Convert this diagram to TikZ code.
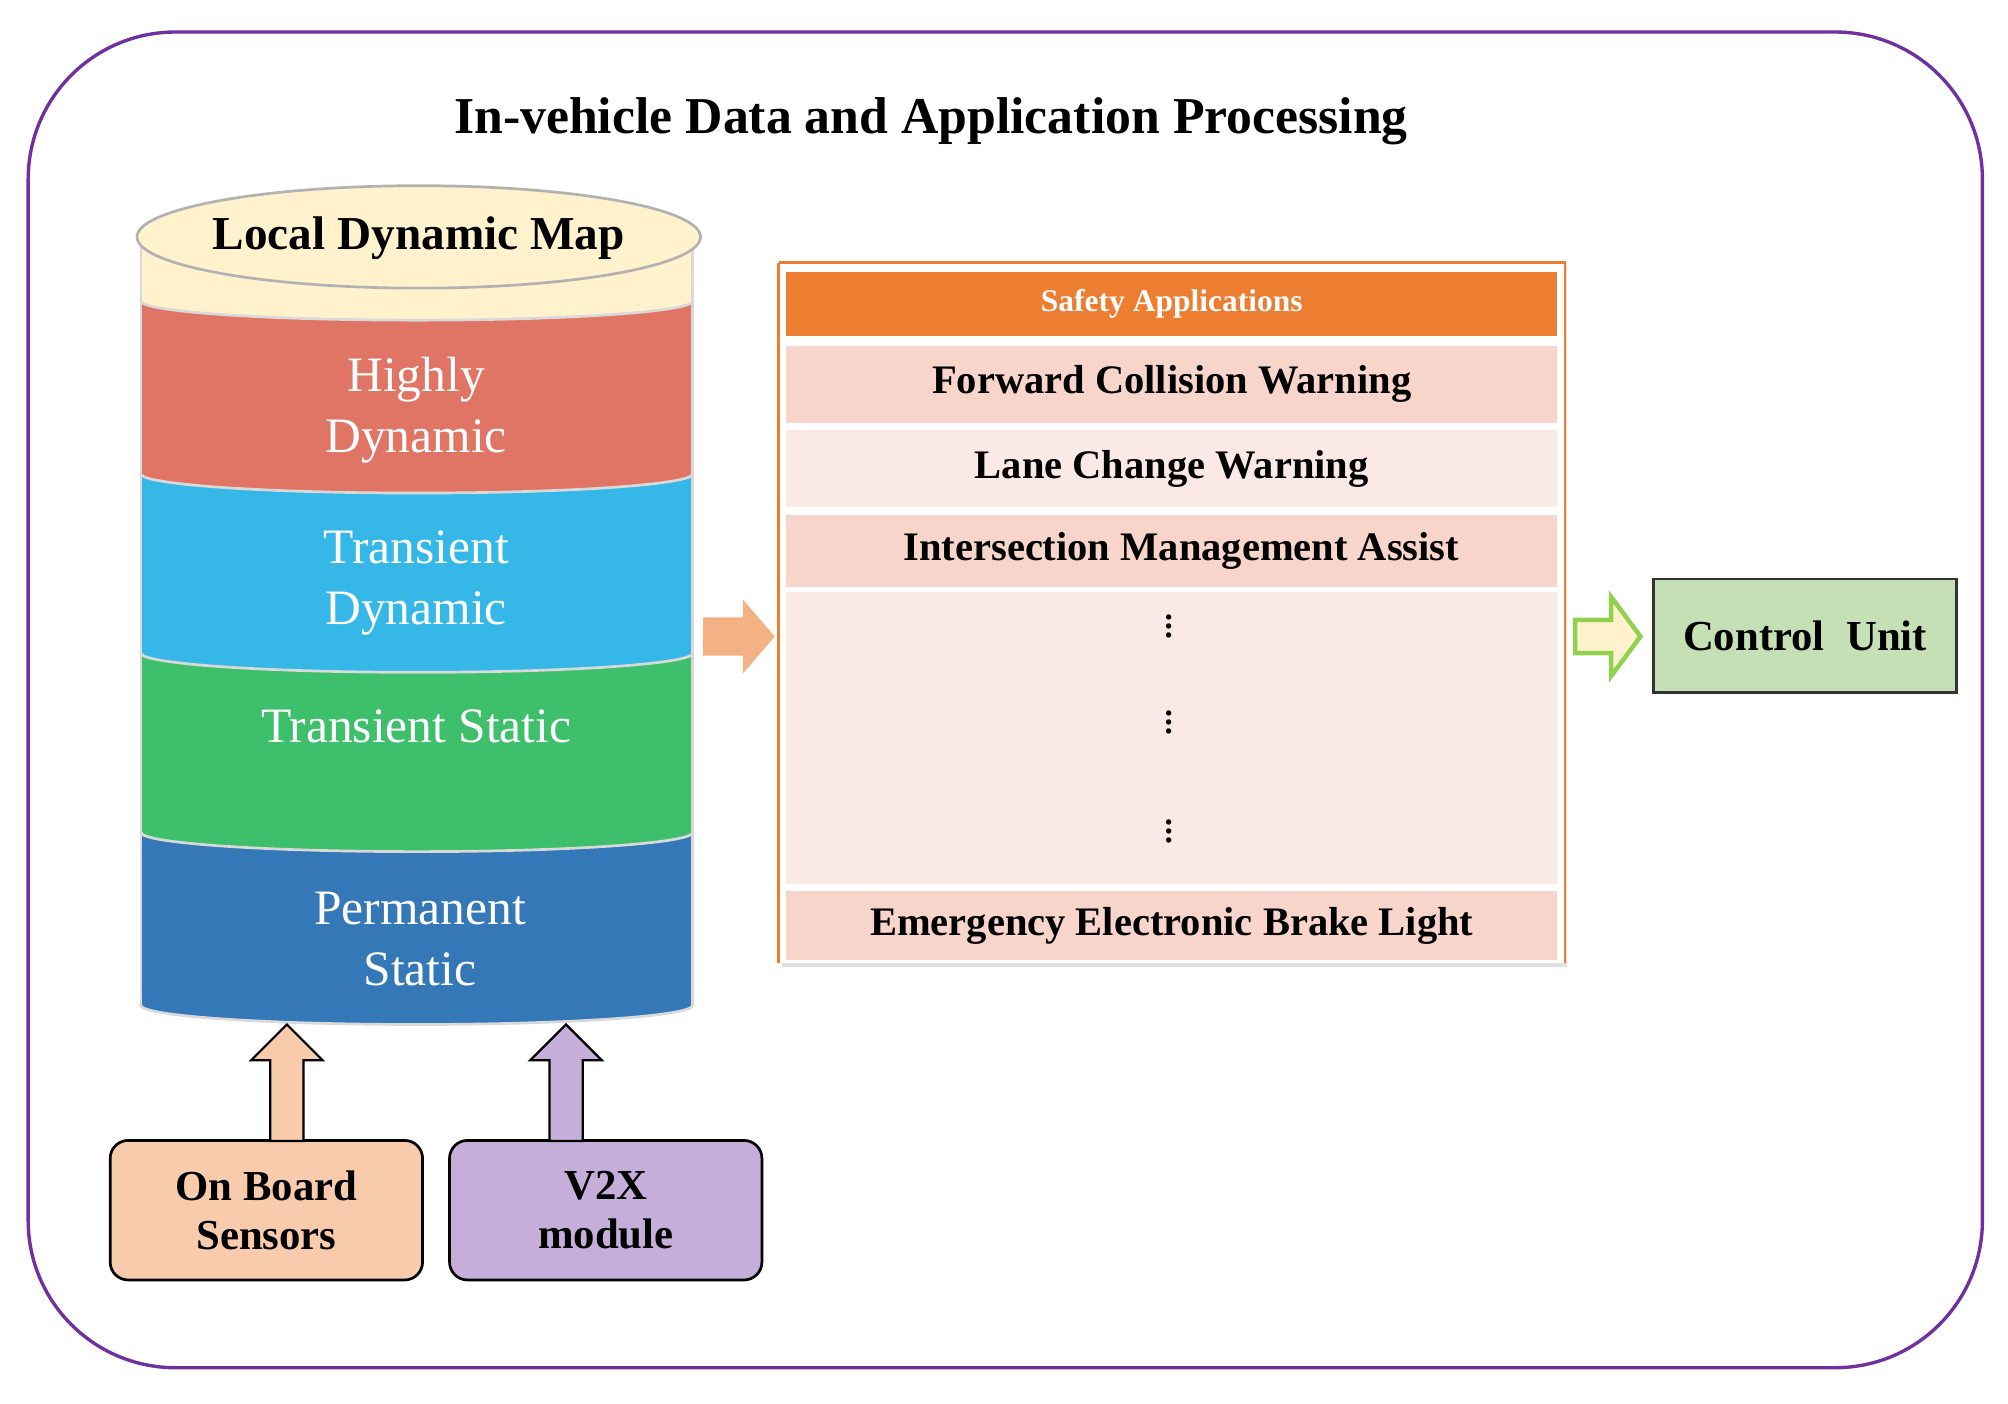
\documentclass[tikz,border=0pt]{standalone}
\usepackage{fontspec}
\setmainfont{Liberation Serif}
\definecolor{purp}{HTML}{7030A0}
\definecolor{c1}{HTML}{3478B8}\definecolor{c2}{HTML}{3DBF6B}\definecolor{c3}{HTML}{35B8E8}\definecolor{c4}{HTML}{E07565}\definecolor{c5}{HTML}{FFF2CC}
\definecolor{pk}{HTML}{F8CBAD}\definecolor{lv}{HTML}{C6AEDA}
\definecolor{oa}{HTML}{F4B183}\definecolor{ga}{HTML}{92D050}
\definecolor{og}{HTML}{ED7D31}\definecolor{r1}{HTML}{F8D5CB}\definecolor{r2}{HTML}{FBE9E5}
\definecolor{gr}{HTML}{C5E0B4}
\begin{document}
\begin{tikzpicture}[x=0.02cm,y=-0.02cm,
  lay/.style={draw=gray!30,line width=1.2pt},
  ltxt/.style={text=white,align=center,font=\fontsize{22}{27}\selectfont},
  row/.style={minimum width=12.04cm,minimum height=#1,inner sep=0pt,font=\fontsize{18}{21}\selectfont\bfseries},
  box/.style={draw=black,line width=1.2pt,rounded corners=8pt,align=center,font=\fontsize{19}{22}\selectfont\bfseries}]
\useasboundingbox (0,0) rectangle (1568,1096);
\draw[purp,line width=1.5pt,rounded corners=2.3cm] (22,25) rectangle (1548,1068);
\node[font=\fontsize{23}{27}\selectfont\bfseries] (title) at (727,95) {In-vehicle Data and Application Processing};
\foreach \t/\b/\c in {650/785/c1,510/650/c2,370/510/c3,235/370/c4,185/235/c5}{
  \filldraw[fill=\c,lay] (325.5,\b) ellipse [x radius=215.5, y radius=15];
  \fill[\c] (110,\t) rectangle (541,\b);
  \draw[gray!30,line width=1.2pt] (110,\t) -- (110,\b) (541,\t) -- (541,\b);
}
\filldraw[fill=c5,draw=gray!60,line width=1.2pt] (327,185) ellipse [x radius=220, y radius=40];
\node[font=\fontsize{21}{25}\selectfont\bfseries] (ldm) at (327,186) {Local Dynamic Map};
\node[ltxt] (hd) at (325,320) {Highly\\Dynamic};
\node[ltxt] (td) at (325,455) {Transient\\Dynamic};
\node[ltxt] (ts) at (325,567) {Transient Static};
\node[ltxt] (ps) at (328,733) {Permanent\\Static};
\node[box,fill=pk,minimum width=4.88cm,minimum height=2.18cm] (obs) at (208,945) {On Board\\Sensors};
\node[box,fill=lv,minimum width=4.88cm,minimum height=2.18cm] (v2x) at (473,945) {V2X\\module};
\filldraw[fill=pk,draw=black,line width=1pt] (211,891) -- (211,828) -- (196,828) -- (224,800) -- (252,828) -- (237,828) -- (237,891) -- cycle;
\filldraw[fill=lv,draw=black,line width=1pt] (429,891) -- (429,828) -- (414,828) -- (442,800) -- (470,828) -- (455,828) -- (455,891) -- cycle;
\fill[oa] (549,482) -- (580,482) -- (580,468) -- (605,497) -- (580,526) -- (580,512) -- (549,512) -- cycle;
\fill[black!12] (611,208) rectangle (1224,755);
\fill[white] (608,205) rectangle (1222,752);
\draw[og,line width=1.5pt] (608,205) -- (608,752);
\draw[og,line width=1pt] (608,205) -- (1222,205) -- (1222,752);
\node[row=1cm,fill=og,text=white,font=\fontsize{14}{16}\selectfont\bfseries] (sa) at (915,237) {Safety Applications};
\node[row=1.2cm,fill=r1] (fcw) at (915,300) {Forward Collision Warning};
\node[row=1.2cm,fill=r2] (lcw) at (915,366) {Lane Change Warning};
\node[row=1.12cm,fill=r1] (ima) at (915,430) {\hspace{0.3cm}Intersection Management Assist};
\node[row=4.56cm,fill=r2] (dots) at (915,576) {};
\foreach \y in {490,565,650}{\node[font=\fontsize{20}{20}\selectfont] at (913,\y-6) {$\vdots$};}
\node[row=1.08cm,fill=r1] (eebl) at (915,723) {Emergency Electronic Brake Light\hspace{0.6cm}};
\filldraw[fill=c5,draw=ga,line width=2pt] (1230,484) -- (1258,484) -- (1258,466) -- (1281,497) -- (1258,528) -- (1258,510) -- (1230,510) -- cycle;
\node[draw=black!80,line width=1.2pt,fill=gr,minimum width=4.74cm,minimum height=1.78cm,font=\fontsize{19}{22}\selectfont\bfseries] (cu) at (1409.5,496.5) {Control~ Unit};
\end{tikzpicture}
\end{document}
